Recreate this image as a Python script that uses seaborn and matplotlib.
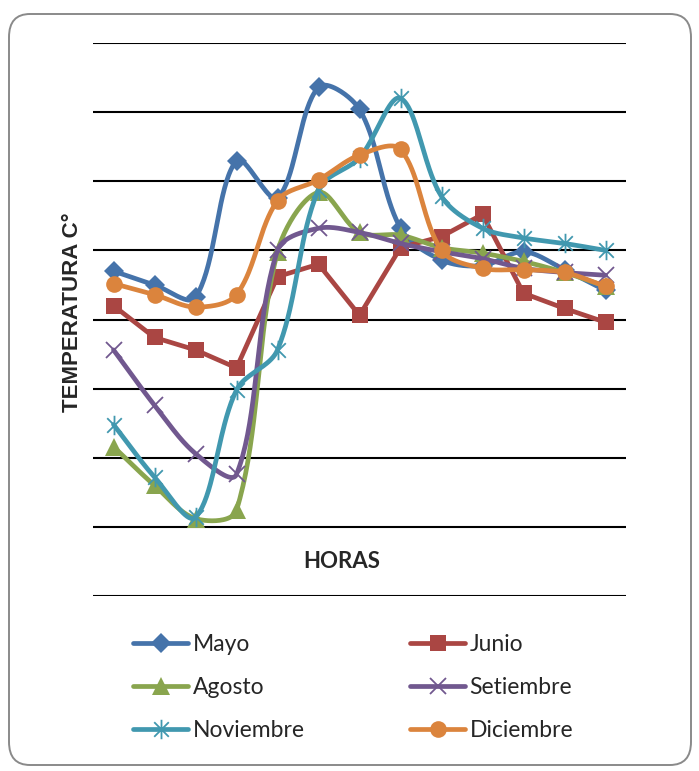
import numpy as np
import matplotlib
matplotlib.use("Agg")
import matplotlib.pyplot as plt
from matplotlib.path import Path
from matplotlib.lines import Line2D
from matplotlib.patches import FancyBboxPatch
import seaborn as sns

# Hourly temperature readings (°C), 13 readings per month
horas = list(range(13))
mayo = [23.5, 22.5, 21.6, 31.5, 28.8, 36.8, 35.2, 26.6, 24.3, 23.9, 24.9, 23.6, 22.1]
junio = [21.0, 18.7, 17.8, 16.5, 23.1, 24.0, 20.3, 25.2, 26.0, 27.6, 21.9, 20.8, 19.8]
agosto = [10.8, 8.0, 5.6, 6.2, 24.9, 29.2, 26.3, 26.1, 25.2, 24.8, 24.2, 23.4, 22.4]
setiembre = [17.8, 13.8, 10.3, 8.8, 25.0, 26.6, 26.3, 25.5, 24.9, 24.4, 23.7, 23.4, 23.2]
noviembre = [12.4, 8.6, 5.7, 14.9, 17.8, 29.4, 31.7, 36.0, 28.9, 26.6, 25.9, 25.5, 25.0]
diciembre = [22.6, 21.8, 20.9, 21.8, 28.6, 30.1, 31.9, 32.3, 25.0, 23.7, 23.6, 23.4, 22.4]

meses = ["Mayo", "Junio", "Agosto", "Setiembre", "Noviembre", "Diciembre"]
valores = [mayo, junio, agosto, setiembre, noviembre, diciembre]

colores = ["#4573AA", "#AA4643", "#89A54E", "#71588F", "#4198AF", "#DB843D"]

# asterisk marker: vertical bar plus an X
star = Path([(0, -1), (0, 1), (-0.75, -0.75), (0.75, 0.75), (-0.75, 0.75), (0.75, -0.75)],
            [Path.MOVETO, Path.LINETO, Path.MOVETO, Path.LINETO, Path.MOVETO, Path.LINETO])

estilos = [
    dict(marker="D", ms=10.5, mew=0, smooth=True),
    dict(marker="s", ms=11.5, mew=0, smooth=False),
    dict(marker="^", ms=12.5, mew=0, smooth=True),
    dict(marker="x", ms=11, mew=1.3, smooth=True),
    dict(marker=star, ms=14, mew=1.3, smooth=True),
    dict(marker="o", ms=12, mew=0, smooth=True),
]

# screen scale (px per unit) so the curve is built in display proportions
SX, SY = 41.0, 553.0 / 40.0


def suavizar(x, y, n=40):
    p = np.column_stack([np.asarray(x, float) * SX, np.asarray(y, float) * SY])
    m = len(p)
    out = [p[0]]
    for i in range(m - 1):
        p0 = p[i - 1] if i > 0 else p[i]
        p1, p2 = p[i], p[i + 1]
        p3 = p[i + 2] if i + 2 < m else p[i + 1]
        d01 = np.linalg.norm(p1 - p0)
        d12 = np.linalg.norm(p2 - p1)
        d23 = np.linalg.norm(p3 - p2)
        f1 = d12 / (d01 + d12) / 3 if d01 + d12 > 0 else 0
        f2 = d12 / (d12 + d23) / 3 if d12 + d23 > 0 else 0
        c1 = p1 + (p2 - p0) * f1
        c2 = p2 - (p3 - p1) * f2
        t = np.linspace(0, 1, n)[1:, None]
        seg = ((1 - t) ** 3) * p1 + 3 * ((1 - t) ** 2) * t * c1 + 3 * (1 - t) * t ** 2 * c2 + t ** 3 * p2
        out.extend(seg)
    out = np.array(out)
    return out[:, 0] / SX, out[:, 1] / SY


sns.set_theme(style="white")
plt.rcParams["font.family"] = ["Lato", "DejaVu Sans"]

fig = plt.figure(figsize=(6.99, 7.71), dpi=100)
ax = fig.add_axes([93 / 699, 1 - 596 / 771, (626 - 93) / 699, (596 - 43) / 771])

# rounded chart frame
fig.patches.append(FancyBboxPatch((9 / 699, 1 - 765 / 771), (682) / 699, (751) / 771,
                                  boxstyle="round,pad=0,rounding_size=0.03",
                                  transform=fig.transFigure, facecolor="none",
                                  edgecolor="#8a8a8a", linewidth=1.4, zorder=-1))

ax.set_xlim(-0.5, 12.5)
ax.set_ylim(0, 40)
ax.set_yticks(np.arange(0, 41, 5))
ax.set_xticks([])
ax.tick_params(left=False, labelleft=False, bottom=False, labelbottom=False)
ax.grid(axis="y", color="black", linewidth=1.5)
ax.set_axisbelow(True)
for s in ax.spines.values():
    s.set_visible(False)
ax.set_facecolor("none")

handles = []
for mes, vals, col, st in zip(meses, valores, colores, estilos):
    if st["smooth"]:
        xs, ys = suavizar(horas, vals)
    else:
        xs, ys = np.array(horas, float), np.array(vals, float)
    sns.lineplot(x=xs, y=ys, ax=ax, color=col, linewidth=3.4, sort=False,
                 estimator=None, solid_capstyle="round", solid_joinstyle="round")
    ax.plot(horas, vals, linestyle="none", marker=st["marker"], ms=st["ms"],
            color=col, markeredgecolor=col, markeredgewidth=st["mew"])
    handles.append(Line2D([], [], color=col, linewidth=3.4, solid_capstyle="round",
                          marker=st["marker"], ms=st["ms"], markeredgecolor=col,
                          markeredgewidth=st["mew"], label=mes))

fig.text(342 / 699, 1 - 562 / 771, "HORAS", ha="center", va="center",
         fontsize=16, fontweight="bold", family=["Lato", "DejaVu Sans"])
fig.text(73 / 699, 1 - 312 / 771, "TEMPERATURA C°", ha="center", va="center",
         rotation=90, fontsize=16, fontweight="bold",
         family=["Liberation Sans", "DejaVu Sans"])

orden = [0, 2, 4, 1, 3, 5]
leg = fig.legend([handles[i] for i in orden], [meses[i] for i in orden],
                 loc="upper left", bbox_to_anchor=(133 / 699, 1 - 634 / 771),
                 ncol=2, frameon=False, fontsize=16.5, handlelength=2.4,
                 handletextpad=0.2, columnspacing=4.6, labelspacing=0.96,
                 borderpad=0, borderaxespad=0)

fig.savefig("out.png", dpi=100, facecolor="white")
